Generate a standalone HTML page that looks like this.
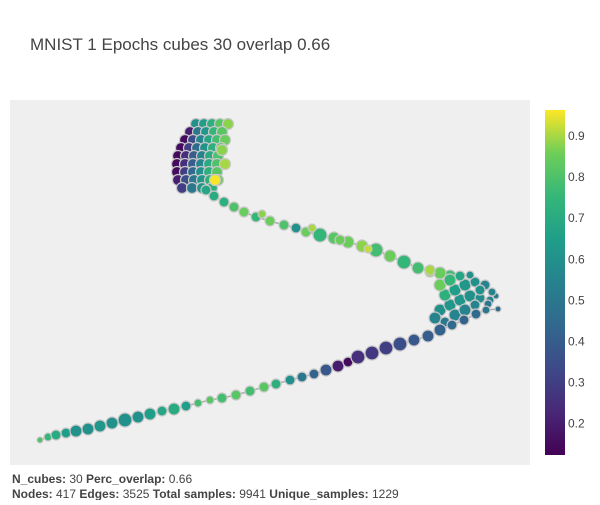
<!DOCTYPE html>
<html><head><meta charset="utf-8"><style>
body{margin:0;background:#fff;font-family:"Liberation Sans",Arial,sans-serif}
svg text{font-family:"Liberation Sans",Arial,sans-serif}
</style></head><body>
<svg id="chart" width="600" height="500">
<defs><linearGradient id="vg" x1="0" y1="1" x2="0" y2="0">
<stop offset="0" stop-color="#440154"/><stop offset="0.125" stop-color="#482878"/><stop offset="0.25" stop-color="#3e4989"/><stop offset="0.375" stop-color="#31688e"/><stop offset="0.5" stop-color="#26828e"/><stop offset="0.625" stop-color="#1f9e89"/><stop offset="0.75" stop-color="#35b779"/><stop offset="0.875" stop-color="#6ece58"/><stop offset="1" stop-color="#fde725"/></linearGradient></defs>
<text x="30" y="50" font-size="17" fill="#444">MNIST 1 Epochs cubes 30 overlap 0.66</text>
<rect x="10" y="100" width="520" height="365" fill="#efefef"/>
<g id="edges"></g><g id="nodes"></g>
<rect x="545" y="110" width="20" height="345" fill="url(#vg)"/>
<g id="cbticks"></g>
<text x="12" y="483" font-size="12" fill="#444"><tspan font-weight="bold">N_cubes:</tspan> 30 <tspan font-weight="bold">Perc_overlap:</tspan> 0.66</text>
<text x="12" y="498" font-size="12" fill="#444"><tspan font-weight="bold">Nodes:</tspan> 417 <tspan font-weight="bold">Edges:</tspan> 3525 <tspan font-weight="bold">Total samples:</tspan> 9941 <tspan font-weight="bold">Unique_samples:</tspan> 1229</text>
</svg>
<script>
const chainX=[40,48,56,66,76,88,100,112,125,138,150,162,174,186,198,210,222,236,250,264,276,290,302,314,326,338,348,358,372,386,400,414,428,440,452,464,476,486,498];
const chainY=[440,437,435,433,431,429,426,423,420,417,414,411,409,406,403,400,398,395,391,387,384,380,377,374,370,366,362,357,353,348,344,340,336,330,325,320,314,310,309];
const chainR=[3,4,5,5,6,6,6,6,7,6,6,5,6,5,4,4,5,5,5,5,5,5,5,5,6,6,5,7,7,7,7,6,6,6,5,5,5,4,3];
const chainV=[0.8,0.75,0.7,0.65,0.6,0.6,0.62,0.6,0.6,0.6,0.65,0.68,0.7,0.65,0.78,0.82,0.78,0.82,0.78,0.82,0.72,0.6,0.5,0.42,0.38,0.2,0.15,0.25,0.28,0.3,0.35,0.38,0.4,0.42,0.45,0.42,0.45,0.5,0.45];
const tipX=[440,450,460,470,480,490,496,445,455,465,475,485,440,450,460,470,435,445,455,465,475,488,430,480,492];
const tipY=[310,305,300,296,298,300,296,295,290,285,282,285,285,280,276,275,318,322,315,310,305,304,270,290,292];
const tipR=[6,6,6,6,5,4,3,6,6,6,5,5,6,6,5,4,6,5,6,6,5,4,5,5,4];
const tipV=[0.6,0.62,0.62,0.6,0.58,0.55,0.5,0.72,0.65,0.62,0.6,0.55,0.85,0.75,0.68,0.6,0.55,0.5,0.55,0.55,0.55,0.5,0.9,0.6,0.55];
const upX=[450,440,430,418,404,390,376,362,348,334,320,306,296,284,270,256,244,234,224,214,206,262,312,340,368];
const upY=[276,273,272,268,262,256,250,246,242,238,235,232,228,225,221,217,212,207,202,196,190,214,228,240,249];
const upR=[6,6,5,6,7,6,7,6,6,6,7,5,5,5,5,5,5,5,5,5,5,4,4,5,4];
const upV=[0.78,0.85,0.88,0.78,0.75,0.85,0.78,0.88,0.85,0.82,0.75,0.85,0.6,0.8,0.85,0.75,0.85,0.8,0.72,0.7,0.68,0.88,0.9,0.85,0.92];
const fanX=[196,204,212,220,228,190,198,206,214,222,185,193,201,209,217,225,181,189,197,205,213,221,178,186,194,202,210,218,177,185,193,201,209,217,225,177,185,193,201,209,217,178,186,194,202,210,218,182,192,202,212,215,222];
const fanY=[124,124,124,124,124,132,132,132,132,132,140,140,140,140,140,140,148,148,148,148,148,148,156,156,156,156,156,156,164,164,164,164,164,164,164,172,172,172,172,172,172,180,180,180,180,180,180,188,188,188,188,180,150];
const fanV=[0.6,0.65,0.72,0.82,0.88,0.2,0.5,0.62,0.75,0.82,0.15,0.35,0.55,0.68,0.78,0.85,0.15,0.3,0.45,0.6,0.72,0.82,0.15,0.25,0.4,0.55,0.7,0.8,0.15,0.25,0.4,0.55,0.7,0.8,0.9,0.15,0.3,0.45,0.6,0.72,0.82,0.2,0.35,0.5,0.62,0.72,0.85,0.3,0.5,0.62,0.72,0.96,0.88];
const cbTicks=[0.2,0.3,0.4,0.5,0.6,0.7,0.8,0.9];
const vmin=0.124, vmax=0.963;
const cbY=v=>455-(v-vmin)/(vmax-vmin)*345;
const stops=["#440154","#482878","#3e4989","#31688e","#26828e","#1f9e89","#35b779","#6ece58","#fde725"];
function hex(h){return [1,3,5].map(i=>parseInt(h.substr(i,2),16));}
function viridis(v){let t=Math.max(0,Math.min(1,(v-vmin)/(vmax-vmin)))*8;let i=Math.min(7,Math.floor(t));let f=t-i;let a=hex(stops[i]),b=hex(stops[i+1]);return "rgb("+a.map((c,k)=>Math.round(c+(b[k]-c)*f)).join(",")+")";}
const NS="http://www.w3.org/2000/svg";
const eg=document.getElementById('edges'), ng=document.getElementById('nodes');
function line(xs,ys){for(let i=1;i<xs.length;i++){const l=document.createElementNS(NS,'line');l.setAttribute('x1',xs[i-1]);l.setAttribute('y1',ys[i-1]);l.setAttribute('x2',xs[i]);l.setAttribute('y2',ys[i]);l.setAttribute('stroke','#aaa');l.setAttribute('stroke-width','1.5');


eg.appendChild(l);}}
line(chainX,chainY);line(upX.slice(0,21),upY.slice(0,21));line(upX.slice(20,21).concat(fanX.slice(47,51)),upY.slice(20,21).concat(fanY.slice(47,51)));
function nodes(xs,ys,rs,vs){for(let i=0;i<xs.length;i++){const c=document.createElementNS(NS,'circle');c.setAttribute('cx',xs[i]);c.setAttribute('cy',ys[i]);c.setAttribute('r',rs?rs[i]:5.5);c.setAttribute('fill',viridis(vs[i]));c.setAttribute('stroke','#c8c8c8');c.setAttribute('stroke-width','1.2');


ng.appendChild(c);}}
nodes(fanX,fanY,null,fanV);nodes(upX,upY,upR,upV);nodes(tipX,tipY,tipR,tipV);nodes(chainX,chainY,chainR,chainV);
const tg=document.getElementById('cbticks');
cbTicks.forEach(v=>{const t=document.createElementNS(NS,'text');t.setAttribute('x',568);t.setAttribute('y',cbY(v)+4);t.setAttribute('font-size','12');t.setAttribute('fill','#444');t.textContent=v.toFixed(1);


tg.appendChild(t);});
</script>
</body></html>
